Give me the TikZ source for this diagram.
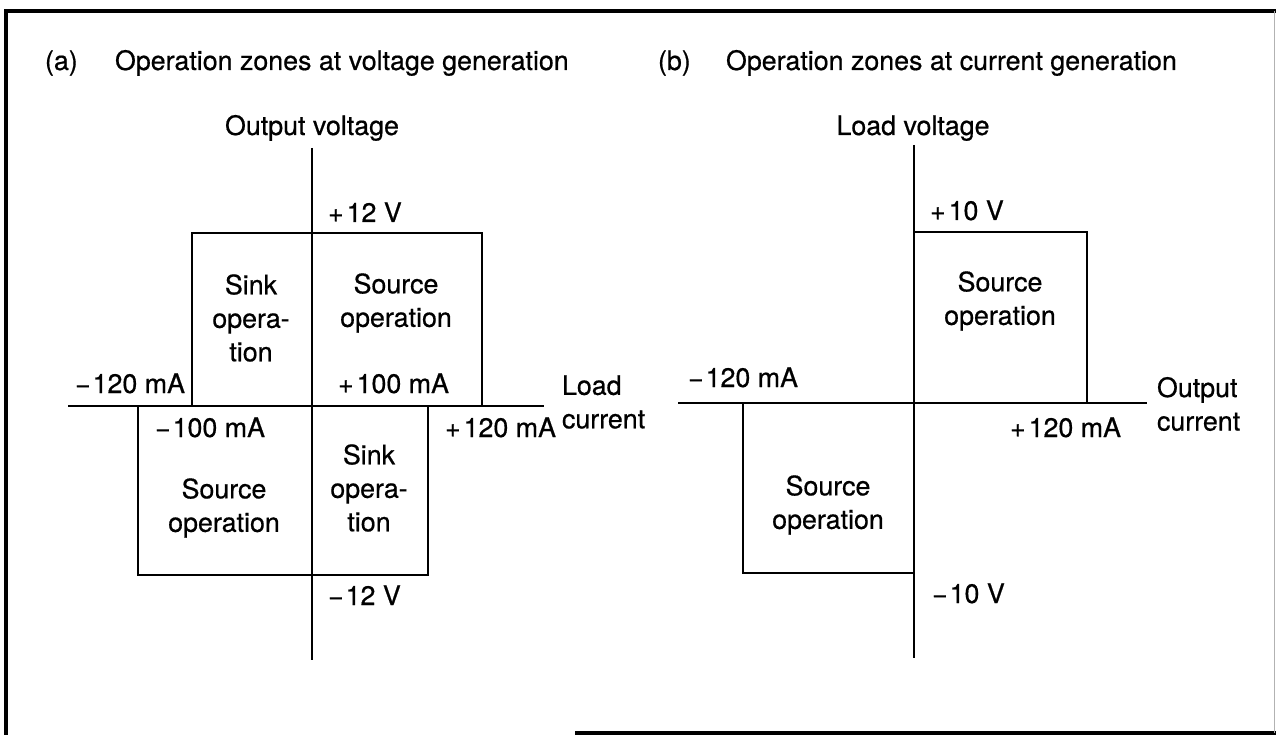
\documentclass[tikz,border=0pt]{standalone}
\usepackage{fontspec}
\setmainfont{TeX Gyre Heros}[FakeBold=0.6]
\begin{document}
\begin{tikzpicture}[x=1pt,y=-1pt,
  lbl/.style={inner sep=0pt,outer sep=0pt,font=\fontsize{26.8}{33.5}\selectfont},
  zone/.style={lbl,align=center},
  axis/.style={line width=2.2pt},
  zoneline/.style={line width=2.2pt},
  frameline/.style={line width=4pt}]
\useasboundingbox (0,0) rectangle (1276,735);
% frame
\draw[frameline] (6,735) -- (6,11) -- (1276,11);
\draw[frameline] (575,733) -- (1276,733);
\draw[line width=0.8pt,gray!60] (1274,11) -- (1274,733);
% ---------- panel (a) ----------
\node[lbl,anchor=base west] (ta) at (45,70) {(a)};
\node[lbl,anchor=base west] (tat) at (115,70) {Operation zones at voltage generation};
\node[lbl,anchor=base] (ya) at (312,135) {Output voltage};
\coordinate (aTop) at (312,148);
\coordinate (aBot) at (312,660);
\coordinate (aL) at (68,406);
\coordinate (aR) at (544,406);
\draw[axis] (aTop) -- (aBot);
\draw[axis] (aL) -- (aR);
\draw[zoneline] (192,406) -- (192,233) -- (482,233) -- (482,406);
\draw[zoneline] (138,406) -- (138,575) -- (428,575) -- (428,406);
\node[lbl,anchor=base west] (ap12) at (328,222) {+\kern3pt12 V};
\node[zone] (asink1) at (251,318) {Sink\\opera-\\tion};
\node[zone] (asrc1) at (396,303) {Source\\operation};
\node[lbl,anchor=base west] (am120) at (75,393) {−\kern2pt120 mA};
\node[lbl,anchor=base west] (ap100) at (338,393) {+\kern3pt100 mA};
\node[lbl,align=left,anchor=west] (axl) at (562,402) {Load\\current};
\node[lbl,anchor=base west] (am100) at (155,437) {−\kern2pt100 mA};
\node[lbl,anchor=base west] (ap120) at (445,437) {+\kern3pt120 mA};
\node[zone] (asink2) at (369,488) {Sink\\opera-\\tion};
\node[zone] (asrc2) at (224,508) {Source\\operation};
\node[lbl,anchor=base west] (am12) at (328,605) {−\kern2pt12 V};
% ---------- panel (b) ----------
\node[lbl,anchor=base west] (tb) at (658,70) {(b)};
\node[lbl,anchor=base west] (tbt) at (726,70) {Operation zones at current generation};
\node[lbl,anchor=base] (yb) at (913,135) {Load voltage};
\coordinate (bTop) at (914,145);
\coordinate (bBot) at (914,658);
\coordinate (bL) at (678,403);
\coordinate (bR) at (1147,403);
\draw[axis] (bTop) -- (bBot);
\draw[axis] (bL) -- (bR);
\draw[zoneline] (914,232) -- (1087,232) -- (1087,403);
\draw[zoneline] (743,403) -- (743,573) -- (914,573);
\node[lbl,anchor=base west] (bp10) at (930,220) {+\kern3pt10 V};
\node[zone] (bsrc1) at (1000,301) {Source\\operation};
\node[lbl,anchor=base west] (bm120) at (688,387) {−\kern2pt120 mA};
\node[lbl,anchor=base west] (bp120) at (1010,437) {+\kern3pt120 mA};
\node[lbl,align=left,anchor=west] (bxl) at (1157,404) {Output\\current};
\node[zone] (bsrc2) at (828,505) {Source\\operation};
\node[lbl,anchor=base west] (bm10) at (932,603) {−\kern2pt10 V};
\end{tikzpicture}
\end{document}
